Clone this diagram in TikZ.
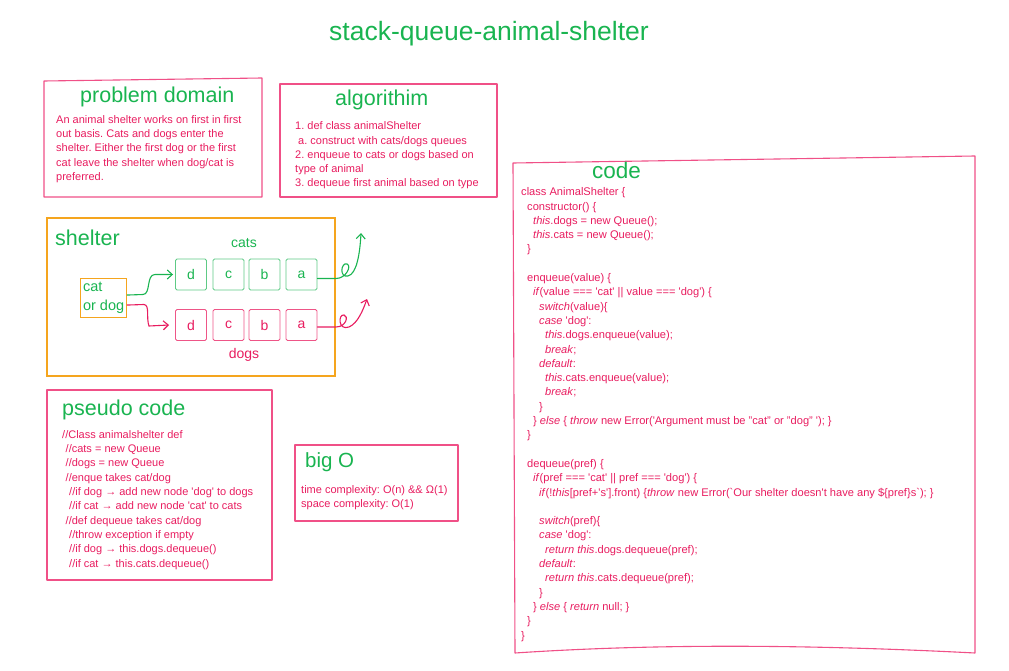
\documentclass[tikz,border=0pt]{standalone}
\usepackage{fontspec}
\setmainfont{Liberation Sans}
\usetikzlibrary{arrows.meta}
\definecolor{grn}{RGB}{25,180,80}
\definecolor{pnk}{RGB}{232,28,95}
\definecolor{boxpnk}{RGB}{240,80,135}
\definecolor{orng}{RGB}{245,165,30}
\newcommand{\ind}[1]{\hspace*{#1pt}}
\newcommand{\sq}{\textquotesingle}
\frenchspacing

\begin{document}
\begin{tikzpicture}[x=1pt,y=-1pt,
  panel/.style={boxpnk,line width=1.1pt,line join=round},
  head/.style={text=grn,font=\fontsize{21.5}{26}\selectfont,anchor=base west,inner sep=0pt},
  body/.style={text=pnk,font=\fontsize{11}{14.3}\selectfont,align=left,anchor=base west,inner sep=0pt},
  qbox/.style={draw,line width=0.9pt,rounded corners=1.5pt,minimum size=31pt,inner sep=0pt,font=\fontsize{14}{17}\selectfont},
  qcat/.style={qbox,grn!70,text=grn},
  qdog/.style={qbox,pnk!75,text=pnk},
  flow/.style={line width=1.1pt,line cap=round,-{Straight Barb[length=5pt,width=9pt]}}]
\useasboundingbox (0,0) rectangle (1009,671);
% title
\node[text=grn,font=\fontsize{26.5}{30}\selectfont,anchor=base] (title) at (489,41) {stack-queue-animal-shelter};
% problem domain (body nodes sit on their last baseline)
\draw[panel] (44,81) -- (262,78) -- (262,197) -- (44,197) -- cycle;
\node[head] (probhead) at (80,103) {problem domain};
\node[body] (probtxt) at (56,180.5) {An animal shelter works on first in first\\
out basis. Cats and dogs enter the\\
shelter. Either the first dog or the first\\
cat leave the shelter when dog/cat is\\
preferred.};
% algorithm
\draw[panel] (280,84) rectangle (497,197);
\node[head] (alghead) at (335,106) {algorithim};
\node[body] (algtxt) at (295,187) {1. def class animalShelter\\
\ind{3}a. construct with cats/dogs queues\\
2. enqueue to cats or dogs based on\\
type of animal\\
3. dequeue first animal based on type};
% shelter
\draw[orng,line width=1.3pt] (47,218) rectangle (335,376);
\node[head] (shelthead) at (55,245) {shelter};
\node[draw=orng,line width=1.1pt,text=grn,align=left,anchor=north west,font=\fontsize{14.5}{19}\selectfont,inner xsep=2.5pt,inner ysep=2pt,minimum width=46pt,minimum height=39pt] (catdog) at (80,278) {cat\\or dog};
\foreach \l/\x in {d/191,c/228.5,b/264.5,a/301.5} {
  \node[qcat] (c\l) at (\x,274.5) {\l};
  \node[qdog] (d\l) at (\x,325) {\l};
}
\node[text=grn,font=\fontsize{14}{17}\selectfont] (catslbl) at (244,243) {cats};
\node[text=pnk,font=\fontsize{14}{17}\selectfont] (dogslbl) at (244,355) {dogs};
\coordinate (catsout) at (361,233);
\coordinate (dogsout) at (367,299);
\draw[flow,grn] ([yshift=3pt]catdog.east) -- (143,294.5) .. controls (151,294.5) and (146,274.5) .. (155,274.5) -- ([xshift=-2pt]cd.west);
\draw[flow,pnk] ([yshift=-7pt]catdog.east) -- (144,304.5) .. controls (150,305) and (146,318) .. (149,326) -- ([xshift=-6pt]dd.west);
\draw[flow,grn] ([yshift=-4pt]ca.east) -- (336,278.5) .. controls (346,278.5) and (352,266) .. (347,264) .. controls (341,262) and (339,278) .. (348,276) .. controls (357,274) and (360,252) .. (catsout);
\draw[flow,pnk] ([yshift=-2pt]da.east) -- (336,327) .. controls (346,327) and (349,316) .. (344,315) .. controls (338,314) and (338,331) .. (349,327) .. controls (358,323) and (363,310) .. (dogsout);
% pseudo code
\draw[panel] (47,390) rectangle (272,580);
\node[head] (pseudohead) at (62,415) {pseudo code};
\node[body] (pseudotxt) at (62,567) {//Class animalshelter def\\
\ind{3.5}//cats = new Queue\\
\ind{3.5}//dogs = new Queue\\
\ind{3.5}//enque takes cat/dog\\
\ind{7}//if dog → add new node \sq dog\sq{} to dogs\\
\ind{7}//if cat → add new node \sq cat\sq{} to cats\\
\ind{3.5}//def dequeue takes cat/dog\\
\ind{7}//throw exception if empty\\
\ind{7}//if dog → this.dogs.dequeue()\\
\ind{7}//if cat → this.cats.dequeue()};
% big O
\draw[panel] (295,445) rectangle (458,521);
\node[head,font=\fontsize{20.5}{24}\selectfont] (bigohead) at (305,467) {big O};
\node[body,font=\fontsize{11}{13.5}\selectfont] (bigotxt) at (301,507) {time complexity: O(n) \&\& Ω(1)\\
space complexity: O(1)};
% code
\draw[panel] (513,163) -- (975,156) -- (975,653) .. controls (800,644) and (650,644) .. (515,653) -- cycle;
\node[head,font=\fontsize{22.5}{26}\selectfont] (codehead) at (592,179) {code};
\node[body,font=\fontsize{11.1}{14.3}\selectfont] (codetxt) at (521,639) {class AnimalShelter \{\\
\ind{6}constructor() \{\\
\ind{12}\textit{this}.dogs = new Queue();\\
\ind{12}\textit{this}.cats = new Queue();\\
\ind{6}\}\\[14.3pt]
\ind{6}enqueue(value) \{\\
\ind{12}\textit{if}(value === \sq cat\sq{} || value === \sq dog\sq) \{\\
\ind{18}\textit{switch}(value)\{\\
\ind{18}\textit{case} \sq dog\sq:\\
\ind{24}\textit{this}.dogs.enqueue(value);\\
\ind{24}\textit{break};\\
\ind{18}\textit{default}:\\
\ind{24}\textit{this}.cats.enqueue(value);\\
\ind{24}\textit{break};\\
\ind{18}\}\\
\ind{12}\} \textit{else} \{ \textit{throw} new Error(\sq Argument must be "cat" or "dog" \sq); \}\\
\ind{6}\}\\[14.3pt]
\ind{6}dequeue(pref) \{\\
\ind{12}\textit{if}(pref === \sq cat\sq{} || pref === \sq dog\sq) \{\\
\ind{18}\textit{if}(!\textit{this}[pref+\sq s\sq].front) \{\textit{throw} new Error(\textasciigrave Our shelter doesn\sq t have any \$\{pref\}s\textasciigrave); \}\\[14.3pt]
\ind{18}\textit{switch}(pref)\{\\
\ind{18}\textit{case} \sq dog\sq:\\
\ind{24}\textit{return} \textit{this}.dogs.dequeue(pref);\\
\ind{18}\textit{default}:\\
\ind{24}\textit{return} \textit{this}.cats.dequeue(pref);\\
\ind{18}\}\\
\ind{12}\} \textit{else} \{ \textit{return} null; \}\\
\ind{6}\}\\
\}};
\end{tikzpicture}
\end{document}
